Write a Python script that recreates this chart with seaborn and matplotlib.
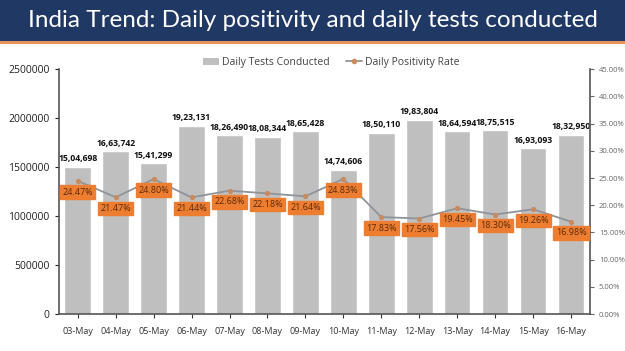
import matplotlib.pyplot as plt
import seaborn as sns
import numpy as np
import pandas as pd
from matplotlib.patches import Rectangle
from matplotlib.lines import Line2D
from matplotlib.ticker import FuncFormatter, MultipleLocator

# data
dates = ['03-May', '04-May', '05-May', '06-May', '07-May', '08-May', '09-May',
         '10-May', '11-May', '12-May', '13-May', '14-May', '15-May', '16-May']
tests = [1504698, 1663742, 1541299, 1923131, 1826490, 1808344, 1865428,
         1474606, 1850110, 1983804, 1864594, 1875515, 1693093, 1832950]
test_labels = ['15,04,698', '16,63,742', '15,41,299', '19,23,131', '18,26,490',
               '18,08,344', '18,65,428', '14,74,606', '18,50,110', '19,83,804',
               '18,64,594', '18,75,515', '16,93,093', '18,32,950']
positivity = [24.47, 21.47, 24.80, 21.44, 22.68, 22.18, 21.64,
              24.83, 17.83, 17.56, 19.45, 18.30, 19.26, 16.98]

df = pd.DataFrame({'date': dates, 'tests': tests, 'rate': positivity})

sns.set_style('white')
plt.rcParams['font.family'] = ['Open Sans', 'DejaVu Sans']

fig = plt.figure(figsize=(6.25, 3.51), dpi=100)

# title band
fig.patches.append(Rectangle((0, 0.884), 1, 0.116, transform=fig.transFigure,
                             facecolor='#1f3864', edgecolor='none', zorder=0))
fig.patches.append(Rectangle((0, 0.876), 1, 0.008, transform=fig.transFigure,
                             facecolor='#e8915a', edgecolor='none', zorder=0))
fig.text(0.5, 0.942, 'India Trend: Daily positivity and daily tests conducted',
         color='white', fontsize=17.5, ha='center', va='center', family='Lato')

ax = fig.add_axes([0.094, 0.105, 0.85, 0.698])
sns.barplot(data=df, x='date', y='tests', color='#bfbfbf', width=0.7,
            saturation=1, ax=ax)
ax.set_ylim(0, 2500000)
ax.yaxis.set_major_locator(MultipleLocator(500000))
ax.yaxis.set_major_formatter(FuncFormatter(lambda v, p: f'{int(v)}'))
ax.set_xlabel('')
ax.set_ylabel('')
ax.tick_params(axis='y', labelsize=7.5, colors='#222222', length=3, direction='out', left=True)
ax.tick_params(axis='x', labelsize=6.5, colors='#333333', length=3, direction='out', bottom=True, pad=6)
for s in ['top', 'right']:
    ax.spines[s].set_visible(False)
for s in ['left', 'bottom']:
    ax.spines[s].set_color('#555555')
    ax.spines[s].set_linewidth(1.2)

for i, (v, lab) in enumerate(zip(tests, test_labels)):
    ax.text(i, v + 35000, lab, ha='center', va='bottom', fontsize=6.2,
            fontweight='bold', color='#111111')

ax2 = ax.twinx()
sns.lineplot(x=np.arange(len(dates)), y=positivity, color='#8f949a', linewidth=1.3,
             marker='o', markersize=3, markerfacecolor='#c98a5e',
             markeredgecolor='#c98a5e', ax=ax2)
ax2.set_ylim(0, 45)
ax2.yaxis.set_major_locator(MultipleLocator(5))
ax2.yaxis.set_major_formatter(FuncFormatter(lambda v, p: f'{v:.2f}%'))
ax2.tick_params(axis='y', labelsize=5.5, colors='#666666', length=3, direction='out', right=True)
for s in ['top', 'left', 'bottom']:
    ax2.spines[s].set_visible(False)
ax2.spines['right'].set_color('#555555')
ax2.spines['right'].set_linewidth(1.2)
ax.set_xlim(-0.5, len(dates) - 0.5)

for i, r in enumerate(positivity):
    ax2.annotate(f'{r:.2f}%', (i, r), xytext=(0, -8), textcoords='offset points',
                 ha='center', va='center', fontsize=6.5, color='#5a2a0a',
                 bbox=dict(boxstyle='square,pad=0.25', facecolor='#ed7d31',
                           edgecolor='#ed7d31'))

handles = [Rectangle((0, 0), 1, 1, facecolor='#bfbfbf', edgecolor='none'),
           Line2D([0], [0], color='#8f949a', marker='o', markersize=3,
                  markerfacecolor='#c98a5e', markeredgecolor='#c98a5e', linewidth=1.3)]
fig.legend(handles, ['Daily Tests Conducted', 'Daily Positivity Rate'],
           loc='center', bbox_to_anchor=(0.53, 0.822), ncol=2, frameon=False,
           fontsize=7.5, labelcolor='#444444', handlelength=1.6, columnspacing=1.5,
           handletextpad=0.3)

fig.savefig('out.png', dpi=100)
